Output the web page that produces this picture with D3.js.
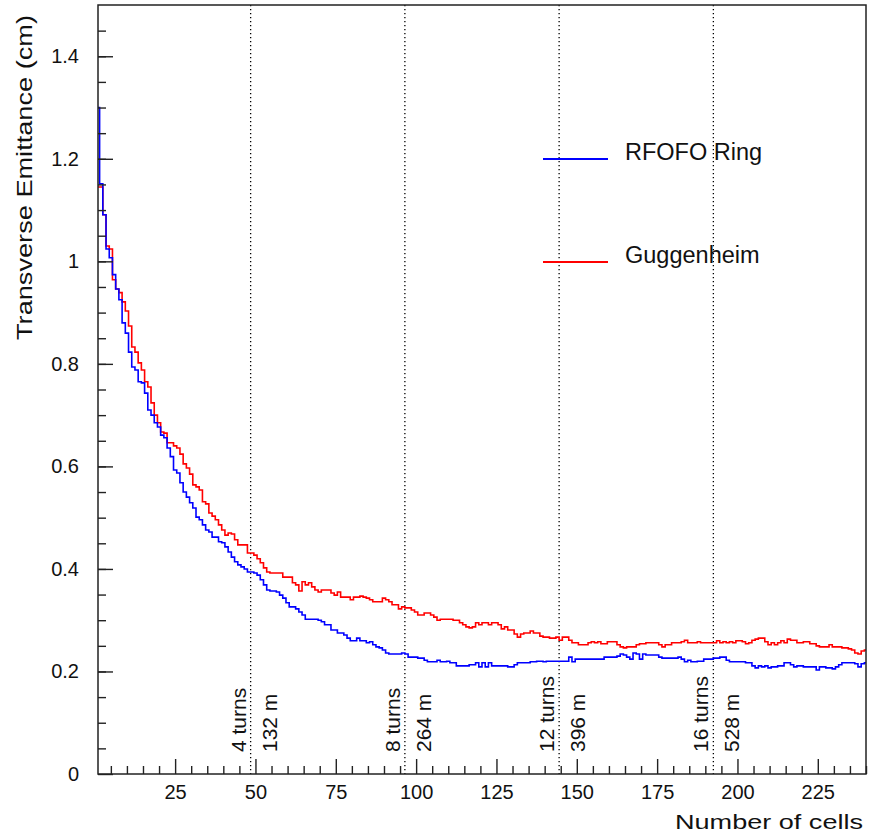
<!DOCTYPE html>
<html>
<head>
<meta charset="utf-8">
<script src="https://cdnjs.cloudflare.com/ajax/libs/d3/7.8.5/d3.min.js"></script>
<style>
body {margin: 0; background: #fff;}
svg text {font-family: "Liberation Sans", Arial, sans-serif; fill: #111;}
</style>
</head>
<body>
<svg id="chart" width="869" height="834"></svg>
<script>
// emittance per cell (cell 1 .. 240)
var rfofoRing = [
  1.300, 1.151, 1.091, 1.024, 1.007, 0.974, 0.946, 0.925, 0.880, 0.860,
  0.823, 0.794, 0.788, 0.765, 0.763, 0.743, 0.710, 0.700, 0.685, 0.677,
  0.661, 0.656, 0.636, 0.619, 0.593, 0.587, 0.568, 0.550, 0.540, 0.529,
  0.519, 0.501, 0.496, 0.486, 0.476, 0.472, 0.462, 0.462, 0.453, 0.451,
  0.443, 0.433, 0.423, 0.414, 0.408, 0.404, 0.400, 0.394, 0.394, 0.392,
  0.388, 0.379, 0.369, 0.359, 0.357, 0.357, 0.355, 0.349, 0.343, 0.334,
  0.326, 0.326, 0.322, 0.316, 0.310, 0.302, 0.302, 0.302, 0.302, 0.300,
  0.297, 0.291, 0.291, 0.281, 0.281, 0.275, 0.275, 0.271, 0.265, 0.260,
  0.260, 0.265, 0.260, 0.260, 0.256, 0.258, 0.252, 0.248, 0.246, 0.242,
  0.236, 0.234, 0.234, 0.234, 0.234, 0.236, 0.234, 0.228, 0.228, 0.228,
  0.226, 0.226, 0.222, 0.219, 0.219, 0.219, 0.222, 0.219, 0.219, 0.220,
  0.217, 0.217, 0.211, 0.211, 0.211, 0.211, 0.213, 0.213, 0.217, 0.209,
  0.217, 0.209, 0.217, 0.211, 0.211, 0.211, 0.211, 0.211, 0.209, 0.209,
  0.213, 0.217, 0.217, 0.217, 0.217, 0.219, 0.219, 0.220, 0.220, 0.219,
  0.220, 0.220, 0.220, 0.220, 0.220, 0.220, 0.220, 0.228, 0.219, 0.224,
  0.224, 0.224, 0.224, 0.224, 0.224, 0.224, 0.224, 0.224, 0.228, 0.228,
  0.228, 0.228, 0.230, 0.234, 0.232, 0.228, 0.224, 0.236, 0.234, 0.224,
  0.234, 0.232, 0.232, 0.232, 0.232, 0.228, 0.226, 0.226, 0.226, 0.226,
  0.226, 0.228, 0.224, 0.219, 0.222, 0.219, 0.219, 0.220, 0.220, 0.224,
  0.224, 0.224, 0.226, 0.226, 0.228, 0.228, 0.222, 0.219, 0.219, 0.219,
  0.219, 0.219, 0.217, 0.217, 0.211, 0.207, 0.211, 0.209, 0.211, 0.207,
  0.209, 0.209, 0.211, 0.211, 0.217, 0.217, 0.213, 0.209, 0.211, 0.211,
  0.209, 0.209, 0.209, 0.209, 0.203, 0.209, 0.209, 0.207, 0.207, 0.205,
  0.209, 0.213, 0.217, 0.217, 0.217, 0.217, 0.215, 0.209, 0.215, 0.217
];
var guggenheim = [
  1.145, 1.145, 1.091, 1.030, 1.024, 0.964, 0.946, 0.939, 0.921, 0.903,
  0.874, 0.833, 0.823, 0.802, 0.788, 0.765, 0.755, 0.724, 0.700, 0.685,
  0.667, 0.665, 0.646, 0.646, 0.640, 0.636, 0.624, 0.605, 0.597, 0.585,
  0.564, 0.560, 0.554, 0.531, 0.527, 0.509, 0.503, 0.496, 0.486, 0.476,
  0.466, 0.470, 0.468, 0.457, 0.447, 0.447, 0.447, 0.431, 0.431, 0.427,
  0.420, 0.412, 0.402, 0.394, 0.392, 0.392, 0.392, 0.392, 0.384, 0.384,
  0.384, 0.373, 0.369, 0.357, 0.375, 0.369, 0.373, 0.365, 0.359, 0.355,
  0.359, 0.359, 0.359, 0.353, 0.349, 0.355, 0.345, 0.345, 0.345, 0.340,
  0.345, 0.345, 0.347, 0.345, 0.343, 0.340, 0.336, 0.336, 0.336, 0.343,
  0.340, 0.336, 0.330, 0.330, 0.322, 0.326, 0.324, 0.324, 0.320, 0.316,
  0.310, 0.310, 0.314, 0.314, 0.310, 0.306, 0.300, 0.302, 0.302, 0.302,
  0.302, 0.300, 0.300, 0.295, 0.291, 0.287, 0.285, 0.287, 0.295, 0.291,
  0.295, 0.295, 0.291, 0.295, 0.295, 0.291, 0.283, 0.287, 0.281, 0.281,
  0.273, 0.267, 0.273, 0.275, 0.275, 0.279, 0.275, 0.275, 0.269, 0.267,
  0.267, 0.265, 0.265, 0.267, 0.261, 0.267, 0.267, 0.261, 0.256, 0.256,
  0.252, 0.252, 0.252, 0.256, 0.258, 0.256, 0.258, 0.254, 0.254, 0.258,
  0.258, 0.258, 0.252, 0.248, 0.246, 0.248, 0.248, 0.248, 0.252, 0.254,
  0.254, 0.256, 0.256, 0.256, 0.256, 0.252, 0.248, 0.252, 0.252, 0.256,
  0.256, 0.256, 0.258, 0.261, 0.256, 0.256, 0.256, 0.258, 0.256, 0.256,
  0.256, 0.256, 0.256, 0.260, 0.256, 0.258, 0.256, 0.258, 0.256, 0.260,
  0.260, 0.258, 0.254, 0.256, 0.261, 0.263, 0.265, 0.265, 0.258, 0.252,
  0.256, 0.252, 0.256, 0.260, 0.256, 0.263, 0.261, 0.261, 0.256, 0.256,
  0.258, 0.258, 0.254, 0.254, 0.250, 0.248, 0.248, 0.248, 0.252, 0.248,
  0.248, 0.248, 0.246, 0.246, 0.244, 0.242, 0.236, 0.234, 0.240, 0.242
];

var xTicks = [25, 50, 75, 100, 125, 150, 175, 200, 225];
var yTicks = [0, 0.2, 0.4, 0.6, 0.8, 1, 1.2, 1.4];
var yTickLabels = ["0", "0.2", "0.4", "0.6", "0.8", "1", "1.2", "1.4"];

var turnCells = [48.5, 96.5, 144.5, 192.5];
var turnLabels = ["4 turns", "8 turns", "12 turns", "16 turns"];
var distLabels = ["132 m", "264 m", "396 m", "528 m"];

var seriesNames = ["RFOFO Ring", "Guggenheim"];
var seriesColors = ["#0000ff", "#ff0000"];

var svg = d3.select("#chart");
var plotLeft = 98, plotRight = 866, plotTop = 5, plotBottom = 774;

var x = d3.scaleLinear().domain([1, 240]).range([plotLeft, plotRight]);
var y = d3.scaleLinear().domain([0, 1.5]).range([plotBottom, plotTop]);

svg.append("rect").attr("width", 869).attr("height", 834).attr("fill", "#fff");

svg.append("clipPath").attr("id", "plotclip")
  .append("rect")
    .attr("x", plotLeft).attr("y", plotTop)
    .attr("width", plotRight - plotLeft).attr("height", plotBottom - plotTop);

// dotted turn markers
svg.selectAll("line.turn")
  .data(turnCells)
  .enter()
  .append("line")
    .attr("class", "turn")
    .attr("x1", d => x(d)).attr("x2", d => x(d))
    .attr("y1", plotTop).attr("y2", plotBottom)
    .attr("stroke", "#000")
    .attr("stroke-width", 1.3)
    .attr("stroke-dasharray", "1.3,2.7");

turnCells.forEach(function(c, i) {
  svg.append("text")
    .attr("transform", "translate(" + (x(c) - 5) + ",752) rotate(-90)")
    .style("font-size", "21px")
    .text(turnLabels[i]);
  svg.append("text")
    .attr("transform", "translate(" + (x(c) + 26) + ",752) rotate(-90)")
    .style("font-size", "21px")
    .text(distLabels[i]);
});

// histograms, bins centred on each cell number
function histPath(values) {
  var pts = values.map((v, i) => [i + 0.5, v]);
  pts.push([values.length + 0.5, values[values.length - 1]]);
  return d3.line()
    .x(d => x(d[0]))
    .y(d => y(d[1]))
    .curve(d3.curveStepAfter)(pts);
}

var plot = svg.append("g").attr("clip-path", "url(#plotclip)");
plot.append("path")
  .attr("d", histPath(guggenheim))
  .attr("fill", "none")
  .attr("stroke", seriesColors[1])
  .attr("stroke-width", 1.6);
plot.append("path")
  .attr("d", histPath(rfofoRing))
  .attr("fill", "none")
  .attr("stroke", seriesColors[0])
  .attr("stroke-width", 1.6);

// axes
svg.append("g").attr("transform", "translate(0," + plotBottom + ")")
  .call(d3.axisBottom(x).tickValues(xTicks).tickSize(-15).tickPadding(11));
svg.append("g").attr("transform", "translate(0," + plotBottom + ")")
  .call(d3.axisBottom(x).tickValues(d3.range(5, 241, 5).filter(d => d % 25 !== 0))
    .tickSize(-8).tickFormat(""));
svg.append("g").attr("transform", "translate(" + plotLeft + ",0)")
  .call(d3.axisLeft(y).tickValues(yTicks).tickSize(-15).tickPadding(19)
    .tickFormat((d, i) => yTickLabels[i]));
svg.append("g").attr("transform", "translate(" + plotLeft + ",0)")
  .call(d3.axisLeft(y).tickValues(d3.range(0.05, 1.5, 0.05)).tickSize(-8).tickFormat(""));

svg.selectAll(".domain").remove();
svg.selectAll(".tick line").attr("stroke", "#222").attr("stroke-width", 1.4);
svg.selectAll(".tick text")
  .style("font-family", "'Liberation Sans', Arial, sans-serif")
  .style("font-size", "20px")
  .attr("fill", "#111");

svg.append("rect")
  .attr("x", plotLeft).attr("y", plotTop)
  .attr("width", plotRight - plotLeft).attr("height", plotBottom - plotTop)
  .attr("fill", "none")
  .attr("stroke", "#222")
  .attr("stroke-width", 1.5);

// titles
svg.append("text")
  .attr("x", 675).attr("y", 829)
  .attr("textLength", 188).attr("lengthAdjust", "spacingAndGlyphs")
  .style("font-size", "21px")
  .text("Number of cells");

svg.append("text")
  .attr("transform", "translate(32,340) rotate(-90)")
  .attr("textLength", 325).attr("lengthAdjust", "spacingAndGlyphs")
  .style("font-size", "22px")
  .text("Transverse Emittance (cm)");

// legend
var legendY = [159, 262];
seriesNames.forEach(function(name, i) {
  svg.append("line")
    .attr("x1", 543).attr("x2", 608)
    .attr("y1", legendY[i]).attr("y2", legendY[i])
    .attr("stroke", seriesColors[i])
    .attr("stroke-width", 2);
  svg.append("text")
    .attr("x", 625).attr("y", legendY[i] + 1)
    .style("font-size", "23.5px")
    .text(name);
});
</script>
</body>
</html>
